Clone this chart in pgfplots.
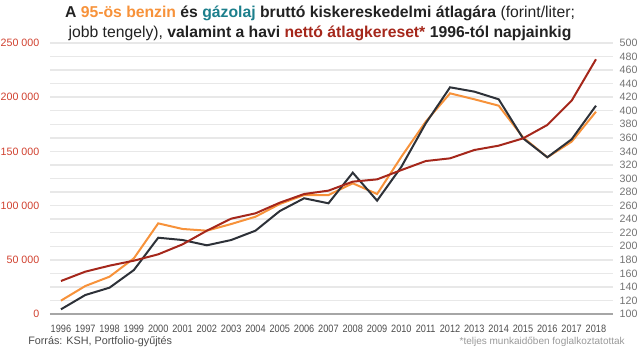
\documentclass[border=0pt]{standalone}
\usepackage{pgfplots}
\pgfplotsset{compat=1.18}
\usepackage{fontspec}
\setmainfont{Liberation Sans}
\newfontfamily\condensed[FakeStretch=0.86]{Liberation Sans}
\definecolor{cOrange}{HTML}{F7923A}
\definecolor{cDark}{HTML}{2D3138}
\definecolor{cRed}{HTML}{A5271B}
\definecolor{cTeal}{HTML}{1C7F8C}
\definecolor{cTickRed}{HTML}{D0402E}
\definecolor{cGrid}{HTML}{E8E8E8}
\definecolor{cTitle}{HTML}{222222}
\begin{document}
\begin{tikzpicture}
\useasboundingbox (0,0) rectangle (480pt,265.5pt);
% right axis with grid, fuel prices
\begin{axis}[
  at={(37.5pt,30pt)}, anchor=south west,
  scale only axis, width=422.25pt, height=203.25pt,
  xmin=1995.55, xmax=2018.7, ymin=100, ymax=500,
  axis x line=bottom, axis y line=right,
  x axis line style={-, draw=gray!70, line width=0.8pt},
  y axis line style={draw=none},
  xtick={1996,...,2018},
  xticklabel style={font=\condensed\fontsize{8}{9}\selectfont, text=black!70, yshift=-4.5pt},
  x tick label style={/pgf/number format/set thousands separator={}},
  ytick={100,120,...,500},
  yticklabel style={font=\fontsize{8}{9}\selectfont, text=black!55, xshift=1.5pt},
  major tick length=0pt,
  ymajorgrids, grid style={cGrid, line width=1.1pt},
  /pgf/number format/assume math mode=true,
  clip=false,
]
\addplot[cOrange, line width=1.5pt] coordinates {
(1996,119.7) (1997,141.3) (1998,155.1) (1999,182.2) (2000,233.8) (2001,225.5)
(2002,223.0) (2003,232.8) (2004,243.6) (2005,262.4) (2006,275.6) (2007,275.6)
(2008,292.9) (2009,277.1) (2010,332.2) (2011,383.9) (2012,425.7) (2013,416.9)
(2014,407.5) (2015,360.8) (2016,331.3) (2017,354.4) (2018,398.6)};
\addplot[cDark, line width=1.5pt] coordinates {
(1996,106.9) (1997,128.0) (1998,138.9) (1999,164.9) (2000,212.6) (2001,209.2)
(2002,201.4) (2003,209.2) (2004,223.0) (2005,252.0) (2006,270.8) (2007,263.4)
(2008,308.6) (2009,267.3) (2010,317.4) (2011,381.4) (2012,434.6) (2013,428.2)
(2014,416.9) (2015,359.3) (2016,331.3) (2017,357.9) (2018,407.5)};
\end{axis}
% left axis, net wage
\begin{axis}[
  at={(37.5pt,30pt)}, anchor=south west,
  scale only axis, width=422.25pt, height=203.25pt,
  xmin=1995.55, xmax=2018.7, ymin=0, ymax=250000,
  axis x line=none, axis y line=left,
  y axis line style={draw=none},
  xtick=\empty,
  scaled y ticks=false,
  ytick={0,50000,100000,150000,200000,250000},
  yticklabels={0,50 000,100 000,150 000,200 000,250 000},
  yticklabel style={font=\fontsize{8}{9}\selectfont, text=cTickRed, xshift=-4.5pt},
  major tick length=0pt,
  clip=false,
]
\addplot[cRed, line width=1.5pt] coordinates {
(1996,30443) (1997,39050) (1998,44600) (1999,49200) (2000,55050) (2001,64250)
(2002,76870) (2003,87950) (2004,92870) (2005,102700) (2006,110700) (2007,113800)
(2008,122100) (2009,124200) (2010,132800) (2011,141100) (2012,143600) (2013,151300)
(2014,155300) (2015,162000) (2016,174400) (2017,196800) (2018,235000)};
\end{axis}
\node[align=center, font=\fontsize{11.8}{15}\selectfont, text=cTitle] at (240pt,248pt)
 {\textbf{A \textcolor{cOrange}{95-ös benzin} és \textcolor{cTeal}{gázolaj} bruttó kiskereskedelmi átlagára} (forint/liter;\\
 jobb tengely), \textbf{valamint a havi \textcolor{cRed}{nettó átlagkereset*} 1996-tól napjainkig}};
\node[anchor=west, font=\fontsize{8.1}{9}\selectfont, text=black!70, inner sep=0pt] at (21pt,9pt) {Forrás: KSH, Portfolio-gyűjtés};
\node[anchor=east, font=\fontsize{7.5}{8}\selectfont, text=black!40, inner sep=0pt] at (468.75pt,9pt) {*teljes munkaidőben foglalkoztatottak};
\end{tikzpicture}
\end{document}
